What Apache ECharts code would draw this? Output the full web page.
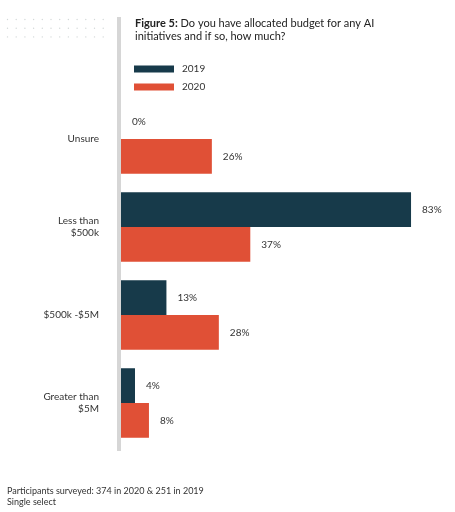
<!DOCTYPE html>
<html>
<head>
<meta charset="utf-8">
<script src="https://cdn.jsdelivr.net/npm/echarts@6/dist/echarts.min.js"></script>
<style>
html,body{margin:0;padding:0;background:#fff;}
#chart{width:455px;height:512px;}
</style>
</head>
<body>
<div id="chart"></div>
<script>
const categories = ['Unsure', 'Less than\n$500k', '$500k -$5M', 'Greater than\n$5M'];
const seriesNames = ['2019', '2020'];
const values2019 = [0, 83, 13, 4];
const values2020 = [26, 37, 28, 8];

const FONT = 'Lato';
const chart = echarts.init(document.getElementById('chart'));

const dots = [];
for (let r = 0; r < 3; r++) {
  for (let c = 0; c < 12; c++) {
    dots.push({
      type: 'circle',
      shape: { cx: 7.5 + c * 8.7, cy: 19.5 + r * 8.7, r: 0.7 },
      style: { fill: '#d3d8d8' },
      silent: true
    });
  }
}

chart.setOption({
  backgroundColor: '#fff',
  animation: false,
  title: [{
    left: 130, top: 12,
    text: '{b|Figure 5:} Do you have allocated budget for any AI\ninitiatives and if so, how much?',
    textStyle: {
      fontFamily: FONT, fontSize: 11, fontWeight: 'normal', color: '#222', lineHeight: 13,
      rich: { b: { fontFamily: FONT, fontSize: 11, fontWeight: 'bold', color: '#222', lineHeight: 13 } }
    }
  }, {
    left: 2, top: 480,
    text: 'Participants surveyed: 374 in 2020 & 251 in 2019\nSingle select',
    textStyle: { fontFamily: FONT, fontSize: 9, fontWeight: 'normal', color: '#333', lineHeight: 11.5 }
  }],
  legend: {
    orient: 'vertical', left: 129, top: 58,
    itemWidth: 40, itemHeight: 7, itemGap: 6,
    icon: 'rect',
    data: seriesNames,
    textStyle: { fontFamily: FONT, fontSize: 10, color: '#333', lineHeight: 12, padding: [0, 0, 0, 3] }
  },
  grid: { left: 121, top: 95, width: 314.5, height: 352, containLabel: false },
  xAxis: { type: 'value', min: 0, max: 90, show: false },
  yAxis: {
    type: 'category', data: categories, inverse: true,
    axisLine: { show: false }, axisTick: { show: false },
    axisLabel: { margin: 22, fontFamily: FONT, fontSize: 10, color: '#333', lineHeight: 12, align: 'right' }
  },
  series: [{
    name: seriesNames[0], type: 'bar', data: values2019,
    barGap: '0%', barCategoryGap: '21%',
    itemStyle: { color: '#173a4a' },
    label: { show: true, position: 'right', distance: 11, formatter: '{c}%', fontFamily: FONT, fontSize: 10, color: '#333' }
  }, {
    name: seriesNames[1], type: 'bar', data: values2020,
    barGap: '0%', barCategoryGap: '21%',
    itemStyle: { color: '#e05036' },
    label: { show: true, position: 'right', distance: 11, formatter: '{c}%', fontFamily: FONT, fontSize: 10, color: '#333' }
  }],
  graphic: [{
    type: 'rect', shape: { x: 117, y: 17, width: 4, height: 434 },
    style: { fill: '#d6d6d6' }, silent: true, z: -1
  }].concat(dots)
});
</script>
</body>
</html>
